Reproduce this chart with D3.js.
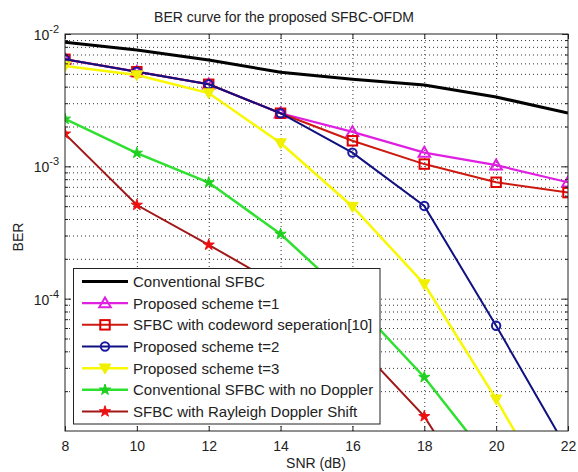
<!DOCTYPE html>
<html><head><meta charset="utf-8">
<script src="https://cdn.jsdelivr.net/npm/d3@7"></script>
<style>body{margin:0;background:#fff}svg{display:block}text{font-family:"Liberation Sans",Arial,sans-serif}</style>
</head><body><svg id="c" width="578" height="472"></svg>
<script>
const snr = [8,10,12,14,16,18,20,22];
const conventional = [8.66e-3,7.57e-3,6.36e-3,5.14e-3,4.55e-3,4.12e-3,3.34e-3,2.53e-3];
const proposedT1 = [6.44e-3,5.19e-3,4.17e-3,2.52e-3,1.82e-3,1.27e-3,1.02e-3,7.58e-4];
const codewordSep = [6.44e-3,5.19e-3,4.17e-3,2.52e-3,1.56e-3,1.04e-3,7.58e-4,6.33e-4];
const proposedT2 = [6.44e-3,5.19e-3,4.17e-3,2.52e-3,1.27e-3,5.02e-4,6.24e-5,7.1e-6];
const proposedT3 = [5.73e-3,4.90e-3,3.58e-3,1.50e-3,4.97e-4,1.29e-4,1.74e-5,2.0e-6];
const noDoppler = [2.28e-3,1.26e-3,7.55e-4,3.08e-4,9.7e-5,2.55e-5,5.2e-6,1.0e-6];
const rayleigh = [1.76e-3,5.1e-4,2.55e-4,1.25e-4,4.89e-5,1.29e-5,1.8e-6,3e-7];
const xTicks = [8,10,12,14,16,18,20,22];
const yMajor = [1e-2,1e-3,1e-4];
const seriesNames = ["Conventional SFBC","Proposed scheme t=1","SFBC with codeword seperation[10]","Proposed scheme t=2","Proposed scheme t=3","Conventional SFBC with no Doppler","SFBC with Rayleigh Doppler Shift"];
const titleText = "BER curve for the proposed SFBC-OFDM";

const series = [
 {name:seriesNames[0], v:conventional, color:"#000", mcolor:"#000", w:3, marker:null},
 {name:seriesNames[1], v:proposedT1, color:"#e020e0", mcolor:"#e020e0", w:2.2, marker:"triUp", fill:false},
 {name:seriesNames[2], v:codewordSep, color:"#cc1a10", mcolor:"#e00000", w:2, marker:"square", fill:false},
 {name:seriesNames[3], v:proposedT2, color:"#101080", mcolor:"#1a1aa0", w:2, marker:"circle", fill:false},
 {name:seriesNames[4], v:proposedT3, color:"#f8f800", mcolor:"#f0f000", w:2.5, marker:"triDown", fill:true},
 {name:seriesNames[5], v:noDoppler, color:"#30e030", mcolor:"#20d020", w:2.5, marker:"star", fill:true},
 {name:seriesNames[6], v:rayleigh, color:"#a01818", mcolor:"#ee1010", w:2, marker:"star", fill:true}
];

const L=65,R=568,T=34,B=431;
const svg=d3.select("#c");
const x=d3.scaleLinear().domain([8,22]).range([L,R]);
const y=d3.scaleLog().domain([1e-5,1e-2]).range([B,T]);

const minor=[];
for(let e=-5;e<-2;e++){for(let k=2;k<=9;k++)minor.push(k*Math.pow(10,e));}
const allY=[1e-5,...minor,...yMajor];

// grid
const grid=svg.append("g");
grid.append("g").attr("transform",`translate(0,${B})`)
  .call(d3.axisBottom(x).tickValues(xTicks.slice(1,-1)).tickSize(-(B-T)).tickFormat(""))
  .call(g=>{g.select(".domain").remove();g.selectAll("line").attr("stroke","#333").attr("stroke-dasharray","1,3").attr("stroke-width",1);});
grid.append("g").attr("transform",`translate(${L},0)`)
  .call(d3.axisLeft(y).tickValues(allY.filter(v=>v>1.01e-5&&v<0.99e-2)).tickSize(-(R-L)).tickFormat(""))
  .call(g=>{g.select(".domain").remove();g.selectAll("line").attr("stroke","#333").attr("stroke-dasharray","1,3").attr("stroke-width",1);});

// clip
svg.append("defs").append("clipPath").attr("id","clip").append("rect").attr("x",L).attr("y",T).attr("width",R-L).attr("height",B-T);
const plot=svg.append("g").attr("clip-path","url(#clip)");

function drawMarker(g,type,cx,cy,color,fill,s){
  if(!type)return;
  let el;
  if(type==="circle") el=g.append("circle").attr("cx",cx).attr("cy",cy).attr("r",s*0.4);
  else if(type==="square") el=g.append("rect").attr("x",cx-s*0.45).attr("y",cy-s*0.45).attr("width",s*0.9).attr("height",s*0.9);
  else if(type==="triUp") el=g.append("path").attr("d",`M${cx},${cy-s*0.55}L${cx+s*0.55},${cy+s*0.4}L${cx-s*0.55},${cy+s*0.4}Z`);
  else if(type==="triDown") el=g.append("path").attr("d",`M${cx},${cy+s*0.55}L${cx+s*0.55},${cy-s*0.4}L${cx-s*0.55},${cy-s*0.4}Z`);
  else if(type==="star") el=g.append("path").attr("transform",`translate(${cx},${cy})`).attr("d",d3.symbol(d3.symbolStar,s*s*0.35)());
  el.attr("stroke",color).attr("stroke-width",fill?1:2).attr("fill",fill?color:"none");
}

const line=d3.line().x((d,i)=>x(snr[i])).y(d=>y(d));
series.forEach(s=>{
  plot.append("path").datum(s.v).attr("d",line).attr("fill","none").attr("stroke",s.color).attr("stroke-width",s.w);
  const mg=plot.append("g");
  s.v.forEach((v,i)=>drawMarker(mg,s.marker,x(snr[i]),y(v),s.mcolor,s.fill,10.5));
});

// axes box with inward ticks
const ax=svg.append("g");
ax.append("g").attr("transform",`translate(0,${B})`)
  .call(d3.axisBottom(x).tickValues(xTicks).tickSize(-5).tickPadding(10))
  .call(g=>{g.select(".domain").remove();g.selectAll("text").attr("font-size",14).attr("fill","#222").attr("font-family","Liberation Sans, Arial");});
ax.append("g").attr("transform",`translate(0,${T})`)
  .call(d3.axisTop(x).tickValues(xTicks).tickSize(-5).tickFormat(""))
  .call(g=>g.select(".domain").remove());
ax.append("g").attr("transform",`translate(${L},0)`)
  .call(d3.axisLeft(y).tickValues(yMajor).tickSize(-6).tickFormat(""))
  .call(g=>g.select(".domain").remove());
ax.append("g").attr("transform",`translate(${L},0)`)
  .call(d3.axisLeft(y).tickValues(minor).tickSize(-3).tickFormat(""))
  .call(g=>g.select(".domain").remove());
ax.append("g").attr("transform",`translate(${R},0)`)
  .call(d3.axisRight(y).tickValues(yMajor).tickSize(-6).tickFormat(""))
  .call(g=>g.select(".domain").remove());
ax.append("g").attr("transform",`translate(${R},0)`)
  .call(d3.axisRight(y).tickValues(minor).tickSize(-3).tickFormat(""))
  .call(g=>g.select(".domain").remove());
ax.selectAll("line").attr("stroke","#222");
svg.append("rect").attr("x",L).attr("y",T).attr("width",R-L).attr("height",B-T).attr("fill","none").attr("stroke","#222").attr("stroke-width",1);

// y tick labels with superscripts
yMajor.forEach(v=>{
  const e=Math.round(Math.log10(v));
  const t=svg.append("text").attr("x",L-6).attr("y",y(v)+6).attr("text-anchor","end").attr("font-size",14).attr("fill","#222");
  t.append("tspan").text("10");
  t.append("tspan").attr("dy",-7).attr("font-size",11).text(String(e));
});

// labels
svg.append("text").attr("x",284).attr("y",22).attr("text-anchor","middle").attr("font-size",14).attr("fill","#222").text(titleText);
svg.append("text").attr("x",316).attr("y",468).attr("text-anchor","middle").attr("font-size",14).attr("fill","#222").text("SNR (dB)");
svg.append("text").attr("transform","translate(23,237) rotate(-90)").attr("text-anchor","middle").attr("font-size",14).attr("fill","#222").text("BER");

// legend
const lg=svg.append("g");
lg.append("rect").attr("x",73.5).attr("y",268.5).attr("width",306.5).attr("height",155.5).attr("fill","#fff").attr("stroke","#222");
series.forEach((s,i)=>{
  const cy=281.5+i*21.67;
  lg.append("line").attr("x1",82).attr("x2",128).attr("y1",cy).attr("y2",cy).attr("stroke",s.color).attr("stroke-width",s.w);
  drawMarker(lg,s.marker,105,cy,s.mcolor,s.fill,10.5);
  lg.append("text").attr("x",133).attr("y",cy+5.5).attr("font-size",15).attr("fill","#222").text(s.name);
});
</script></body></html>
